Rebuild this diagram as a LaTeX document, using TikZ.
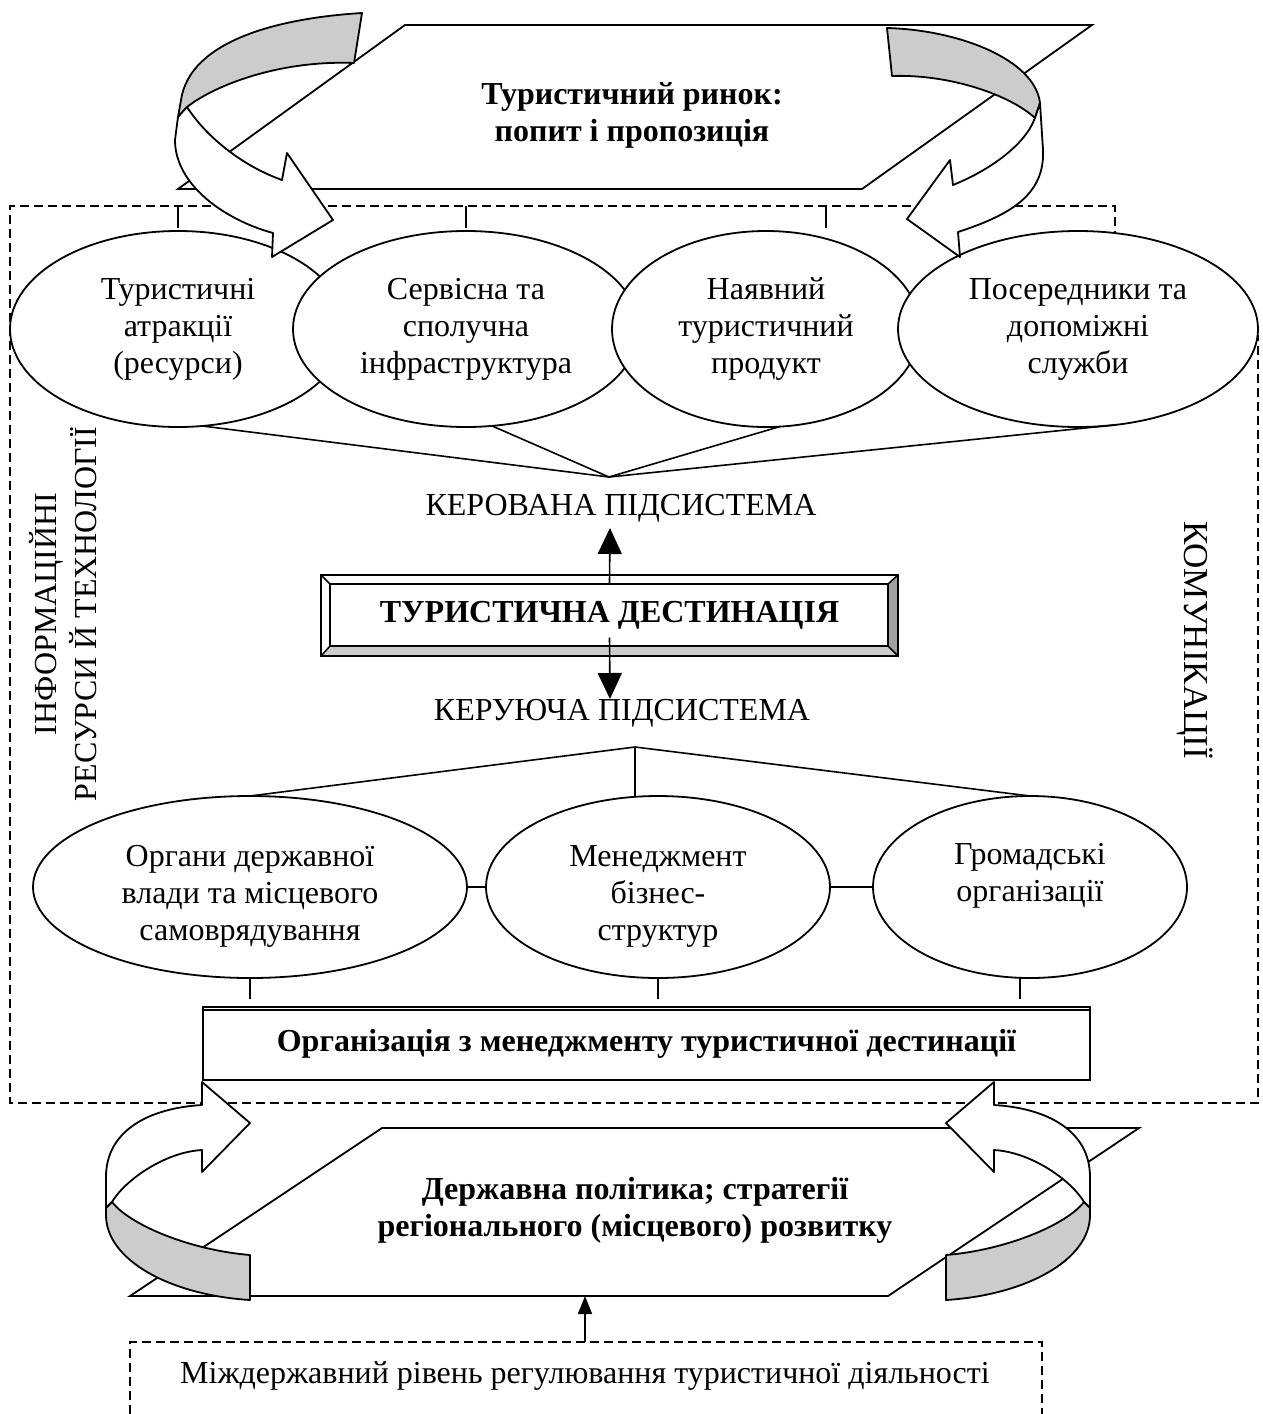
\documentclass[tikz,border=0pt]{standalone}
\usepackage{fontspec}
\setmainfont{Liberation Serif}
\usetikzlibrary{shapes.geometric,arrows.meta,calc}
\definecolor{bandgray}{HTML}{CCCCCC}
\definecolor{bevlight}{HTML}{CCCCCC}
\definecolor{bevdark}{HTML}{A0A0A0}
\newcommand{\toprule}{\rule{0pt}{40pt}}
\begin{document}
\begin{tikzpicture}[x=1pt,y=-1pt,
  every node/.style={inner sep=0pt, outer sep=0pt, font=\fontsize{32}{37}\selectfont},
  btxt/.style={font=\fontsize{32}{37}\selectfont\bfseries},
  ln/.style={line width=1.8pt},
  cn/.style={line width=1.6pt},
  dsh/.style={line width=1.8pt, dash pattern=on 9pt off 5pt},
  tick/.style={line width=1.8pt, dash pattern=on 22pt off 40pt},
  tickb/.style={line width=1.6pt, dash pattern=on 21pt off 40pt},
  ell/.style={ellipse, draw, line width=1.8pt, fill=white, align=center},
  band/.style={draw, line width=1.8pt, line join=round},
  ]
\useasboundingbox (0,0) rectangle (1263,1414);

% dashed frame
\draw[dsh] (1115,240) -- (1115,206) -- (10,206) -- (10,1103) -- (1258,1103) -- (1258,335);
\foreach \x in {178,466,826} \draw[tick] (\x,206) -- (\x,250);

% market parallelogram
\draw[ln] (178,189) -- (405,25) -- (1092,25) -- (862,189) -- cycle;
\node[btxt, align=center] (mkt) at (632,115) {Туристичний ринок:\\попит і пропозиція};

% upper ellipses
\node[ell, minimum width=336pt, minimum height=196pt] (E1) at (178,329) {Туристичні\\атракції\\(ресурси)};
\node[ell, minimum width=346pt, minimum height=196pt] (E2) at (466,329) {Сервісна та\\сполучна\\інфраструктура};
\node[ell, minimum width=308pt, minimum height=196pt] (E3) at (766,329) {Наявний\\туристичний\\продукт};
\node[ell, minimum width=360pt, minimum height=196pt] (E4) at (1078,329) {Посередники та\\допоміжні\\служби};

% top curved arrows
\draw[band, fill=bandgray] (362,13) .. controls (280,18) and (190,40) .. (181,100) -- (178,117) -- (187,107) .. controls (215,85) and (280,60) .. (354,63) -- cycle;
\draw[band, fill=white] (187,107) .. controls (205,135) and (240,165) .. (282,180) -- (287,153) -- (333,220) -- (272,257) -- (273,233) .. controls (225,220) and (175,185) .. (175,140) -- (178,117) -- cycle;
\draw[band, fill=bandgray] (887,28) .. controls (960,30) and (1035,60) .. (1040,103) -- (1035,118) .. controls (1010,95) and (950,74) .. (892,76) -- cycle;
\draw[band, fill=white] (1035,118) .. controls (1025,145) and (990,170) .. (953,185) -- (950,160) -- (907,219) -- (960,257) -- (958,232) .. controls (1010,215) and (1045,195) .. (1043,150) -- (1040,103) -- cycle;

% converging lines (managed subsystem)
\coordinate (cv1) at (609,477);
\draw[cn] (E1.-76) -- (cv1);
\draw[cn] (E2.-75) -- (cv1);
\draw[cn] (E3.-82) -- (cv1);
\draw[cn] (E4.-70) -- (cv1);
\node (kerovana) at (621,508) {КЕРОВАНА ПІДСИСТЕМА};

% bevel box
\fill[white] (321,575) rectangle (898,656);
\fill[bevlight] (321,656) -- (898,656) -- (888,646) -- (330,646) -- cycle;
\fill[bevdark] (898,575) -- (898,656) -- (888,646) -- (888,584) -- cycle;
\draw[line width=1.5pt] (321,575) rectangle (898,656);
\draw[line width=1.5pt] (330,584) rectangle (888,646);
\draw[line width=1.5pt] (321,575) -- (330,584) (898,575) -- (888,584) (321,656) -- (330,646) (898,656) -- (888,646);
\node[btxt, minimum width=577pt, minimum height=81pt] (TD) at (609.5,615.5) {ТУРИСТИЧНА ДЕСТИНАЦІЯ};

\coordinate (upTip) at (610,528);
\coordinate (dnTip) at (610,699);
\draw[cn, -{Triangle[width=24pt,length=26pt]}] ([yshift=-8pt]TD.north) -- (upTip);
\draw[cn, -{Triangle[width=24pt,length=26pt]}] ([yshift=-22pt]TD.center) -- (dnTip);

\node (keruyucha) at (622,713) {КЕРУЮЧА ПІДСИСТЕМА};

% lower ellipses
\node[ell, minimum width=434pt, minimum height=182pt] (L1) at (250,887) {\toprule Органи державної\\влади та місцевого\\самоврядування};
\node[ell, minimum width=344pt, minimum height=182pt] (L2) at (658,887) {\toprule Менеджмент\\бізнес-\\структур};
\node[ell, minimum width=314pt, minimum height=182pt] (L3) at (1030,887) {\toprule Громадські\\організації\\\strut};

\coordinate (cv2) at (635,747);
\draw[cn] (cv2) -- (L1.north);
\draw[cn] (cv2) -- (cv2 |- L2.north);
\draw[cn] (cv2) -- (L3.north);
\draw[cn] (L1.east) -- (L2.west);
\draw[cn] (L2.east) -- (L3.west);

% management organisation box
\node[btxt, draw, line width=1.8pt, fill=white, minimum width=887pt, minimum height=73pt] (org) at (646.5,1043.5) {Організація з менеджменту туристичної дестинації};
\draw[line width=1.2pt] ([yshift=-3pt]org.north west) -- ([yshift=-3pt]org.north east);
\draw[tickb] (L1.south) -- (L1.south |- org.north);
\draw[tickb] (L2.south) -- (L2.south |- org.north);
\draw[tickb] ([xshift=-10pt]L3.south) -- ([xshift=-10pt]L3.south |- org.north);

% vertical side labels
\node[rotate=90, align=center, font=\fontsize{32}{40}\selectfont] (irt) at (63,614) {ІНФОРМАЦІЙНІ\\РЕСУРСИ Й ТЕХНОЛОГІЇ};
\node[rotate=-90, font=\fontsize{35}{40}\selectfont] (kom) at (1195,640) {КОМУНІКАЦІЇ};

% policy parallelogram
\draw[ln, fill=white] (130,1296) -- (382,1128) -- (1139,1128) -- (888,1296) -- cycle;
\node[btxt, align=center] (pol) at (635,1210) {Державна політика; стратегії\\регіонального (місцевого) розвитку};

% bottom curved arrows
\draw[band, fill=white] (112,1202) .. controls (125,1180) and (165,1152) .. (202,1150) -- (202,1172) -- (250,1123) -- (202,1082) -- (202,1105) .. controls (150,1108) and (106,1130) .. (106,1177) -- (106,1208) -- cycle;
\draw[band, fill=bandgray] (112,1202) .. controls (130,1225) and (190,1250) .. (250,1255) -- (250,1300) .. controls (170,1295) and (106,1260) .. (106,1215) -- (106,1208) -- cycle;
\draw[band, fill=white] (1084,1202) .. controls (1071,1180) and (1031,1152) .. (994,1150) -- (994,1172) -- (946,1123) -- (994,1082) -- (994,1105) .. controls (1046,1108) and (1090,1130) .. (1090,1177) -- (1090,1208) -- cycle;
\draw[band, fill=bandgray] (1084,1202) .. controls (1066,1225) and (1006,1250) .. (946,1255) -- (946,1300) .. controls (1026,1295) and (1090,1260) .. (1090,1215) -- (1090,1208) -- cycle;

% interstate level box
\draw[dsh, line width=1.6pt] (130,1414) -- (130,1342) -- (1042,1342) -- (1042,1414);
\node (mizh) at (585,1376) {Міждержавний рівень регулювання туристичної діяльності};
\coordinate (mtop) at (585,1342);
\coordinate (ptop) at (585,1296);
\draw[cn, -{Triangle[width=14pt,length=18pt]}] (mtop) -- (ptop);
\end{tikzpicture}
\end{document}
